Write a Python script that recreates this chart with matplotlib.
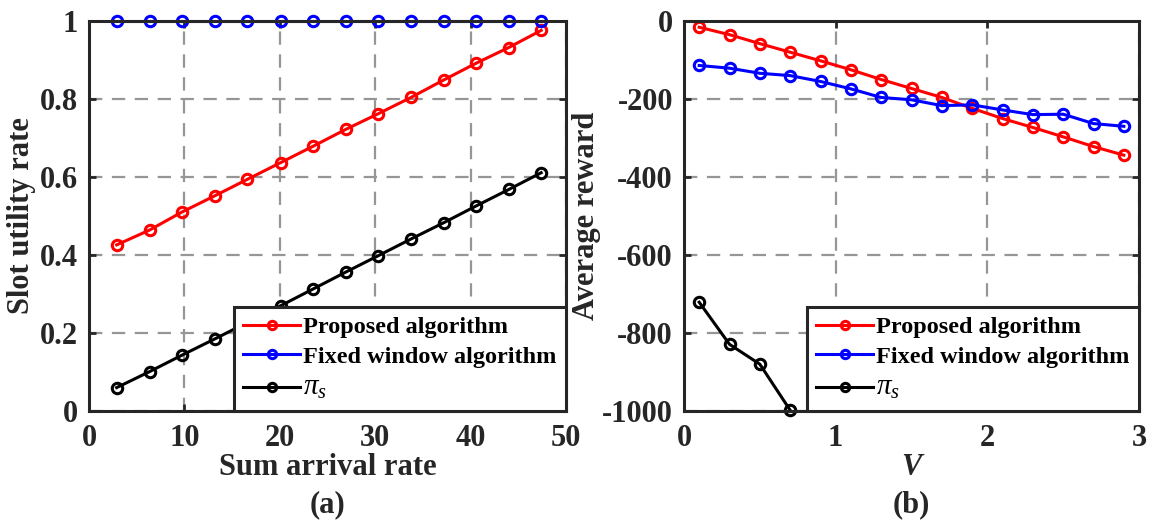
import matplotlib
matplotlib.use('Agg')
import matplotlib.pyplot as plt

plt.rcParams['font.family'] = ['Liberation Serif', 'DejaVu Serif']
plt.rcParams['font.weight'] = 'bold'
plt.rcParams['mathtext.fontset'] = 'custom'
plt.rcParams['mathtext.it'] = 'Liberation Serif:italic:normal'
plt.rcParams['mathtext.rm'] = 'Liberation Serif:normal'
plt.rcParams['axes.unicode_minus'] = False

# (a) slot utility rate vs sum arrival rate
arrival = [2.9, 6.35, 9.73, 13.2, 16.6, 20.1, 23.5, 26.9, 30.3, 33.75, 37.2, 40.6, 44.0, 47.4]
util_proposed = [0.426, 0.464, 0.510, 0.552, 0.594, 0.637, 0.679, 0.722, 0.762, 0.804,
                 0.849, 0.892, 0.932, 0.976]
util_fixed = [1.0] * 14
util_pis = [0.060, 0.101, 0.143, 0.185, 0.227, 0.270, 0.313, 0.356, 0.398, 0.441,
            0.483, 0.526, 0.568, 0.611]

# (b) average reward vs V
V = [0.1, 0.3, 0.5, 0.7, 0.9, 1.1, 1.3, 1.5, 1.7, 1.9, 2.1, 2.3, 2.5, 2.7, 2.9]
rew_proposed = [-16, -35, -58, -80, -102, -125, -150, -173, -196, -224, -250, -273,
                -297, -322, -344]
rew_fixed = [-114, -121, -134, -140, -155, -174, -196, -202, -217, -215, -228, -240,
             -239, -263, -270]
V_pis = [0.1, 0.3, 0.5, 0.7]
rew_pis = [-721, -829, -880, -998]

labels = ['Proposed algorithm', 'Fixed window algorithm', r'$\mathit{\pi}_{\mathit{s}}$']
colors = ['red', 'blue', 'black']
spine_col = '#262626'
fs = 22

fig = plt.figure(figsize=(11.56, 5.2), dpi=100)
ax1 = fig.add_axes([0.0770, 0.2096, 0.4126, 0.75])
ax2 = fig.add_axes([0.5917, 0.2096, 0.3936, 0.75])


def style(ax):
    ax.grid(True, color='#969696', linestyle=(0, (6, 4.3)), linewidth=1.6)
    ax.set_axisbelow(True)
    for s in ax.spines.values():
        s.set_linewidth(2.2)
        s.set_color(spine_col)
    ax.tick_params(direction='in', top=True, right=True, length=5, width=2,
                   color=spine_col, labelsize=fs)
    ax.tick_params(axis='x', pad=9)
    ax.tick_params(axis='y', pad=8)
    for t in ax.get_xticklabels() + ax.get_yticklabels():
        t.set_fontweight('bold')
        t.set_color(spine_col)


def series(ax, x, y, c, lab):
    ax.plot(x, y, '-o', color=c, lw=2.2, ms=7.5, mfc='none', mew=2.2, label=lab,
            clip_on=False)


series(ax1, arrival, util_proposed, colors[0], labels[0])
series(ax1, arrival, util_fixed, colors[1], labels[1])
series(ax1, arrival, util_pis, colors[2], labels[2])
ax1.set_xlim(0, 50)
ax1.set_ylim(0, 1)
ax1.set_xticks([0, 10, 20, 30, 40, 50])
ax1.set_yticks([0, 0.2, 0.4, 0.6, 0.8, 1])
ax1.set_yticklabels(['0', '0.2', '0.4', '0.6', '0.8', '1'])
style(ax1)
ax1.set_xlabel('Sum arrival rate', fontsize=fs, fontweight='bold', color=spine_col, labelpad=0)
ax1.set_ylabel('Slot utility rate', fontsize=fs, fontweight='bold', color=spine_col, labelpad=3)

series(ax2, V, rew_proposed, colors[0], labels[0])
series(ax2, V, rew_fixed, colors[1], labels[1])
series(ax2, V_pis, rew_pis, colors[2], labels[2])
ax2.set_xlim(0, 3)
ax2.set_ylim(-1000, 0)
ax2.set_xticks([0, 1, 2, 3])
ax2.set_yticks([-1000, -800, -600, -400, -200, 0])
style(ax2)
ax2.set_xlabel('V', fontsize=fs, fontweight='bold', fontstyle='italic', color=spine_col, labelpad=0)
ax2.set_ylabel('Average reward', fontsize=fs, fontweight='bold', color=spine_col, labelpad=1)

for ax in (ax1, ax2):
    leg = ax.legend(loc='lower right', borderaxespad=0, fancybox=False, fontsize=17.5,
                    handlelength=2.35, handletextpad=0.1, labelspacing=0.3,
                    borderpad=0.4, framealpha=1, markerscale=0.8)
    leg.get_frame().set_edgecolor(spine_col)
    leg.get_frame().set_linewidth(2.2)
    for t in leg.get_texts():
        t.set_fontweight('bold')
    pi_txt = leg.get_texts()[2]
    pi_txt.set_fontweight('normal')
    pi_txt.set_fontsize(21)
    leg.set_zorder(5)

fig.text(0.2833, 0.029, '(a)', fontsize=fs, fontweight='bold', ha='center', va='center',
         color=spine_col)
fig.text(0.7885, 0.029, '(b)', fontsize=fs, fontweight='bold', ha='center', va='center',
         color=spine_col)

fig.savefig('out.png', dpi=100)
